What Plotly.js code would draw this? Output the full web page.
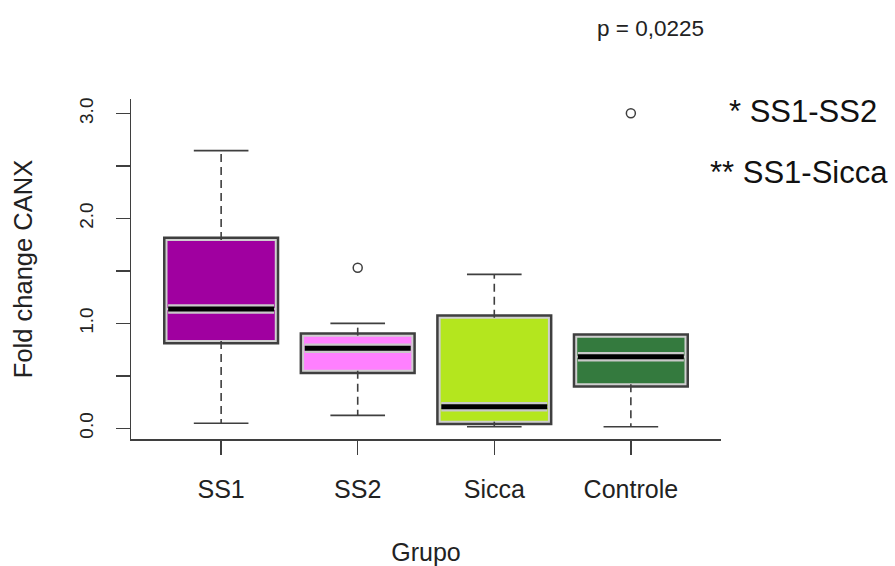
<!DOCTYPE html>
<html>
<head>
<meta charset="utf-8">
<script src="https://cdn.plot.ly/plotly-3.0.1.min.js"></script>
<style>html,body{margin:0;padding:0;background:#fff;}#chart{width:895px;height:566px;}</style>
</head>
<body>
<div id="chart"></div>
<script>
// ---- data ----
const groups = ["SS1", "SS2", "Sicca", "Controle"];
const whiskerLow  = [0.048, 0.124, 0.015, 0.015];
const q1          = [0.832, 0.549, 0.063, 0.419];
const median      = [1.137, 0.763, 0.206, 0.683];
const q3          = [1.795, 0.883, 1.054, 0.873];
const whiskerHigh = [2.646, 1.001, 1.468, 0.873];
const outlierGroup = ["SS2", "Controle"];
const outlierValue = [1.531, 3.003];
const yTickVals = [0, 0.5, 1, 1.5, 2, 2.5, 3];
const yTickText = ["0.0", "", "1.0", "", "2.0", "", "3.0"];
const pValueText = "p = 0,0225";
const noteTexts = ["* SS1-SS2", "** SS1-Sicca"];

// ---- styles ----
const fillColors = ["#a000a0", "#ff80ff", "#b4e61e", "#347a3e"];
const FONT = "Liberation Sans, Arial, sans-serif";
const dark = "#3f3f3f";
const boxW = 0.8, capHalf = 0.2;

const pos = groups.map((g, i) => i + 1);
const traces = [];

// boxes: outer dark outline, then light gray inner outline
groups.forEach((g, i) => {
  const base = {
    type: "box", x: [pos[i]], q1: [q1[i]], median: [median[i]], q3: [q3[i]],
    lowerfence: [q1[i]], upperfence: [q3[i]], width: boxW, boxpoints: false,
    fillcolor: fillColors[i], showlegend: false, hoverinfo: "skip", name: g
  };
  traces.push(Object.assign({}, base, {line: {color: dark, width: 7}}));
  traces.push(Object.assign({}, base, {line: {color: "#cfcfcf", width: 2}}));
});

// whiskers (dashed) and staples (solid)
const wx = [], wy = [], sx = [], sy = [], mx = [], my = [];
groups.forEach((g, i) => {
  if (whiskerHigh[i] > q3[i]) {
    wx.push(pos[i], pos[i], null);
    wy.push(q3[i], whiskerHigh[i], null);
    sx.push(pos[i] - capHalf, pos[i] + capHalf, null);
    sy.push(whiskerHigh[i], whiskerHigh[i], null);
  }
  if (whiskerLow[i] < q1[i]) {
    wx.push(pos[i], pos[i], null);
    wy.push(q1[i], whiskerLow[i], null);
    sx.push(pos[i] - capHalf, pos[i] + capHalf, null);
    sy.push(whiskerLow[i], whiskerLow[i], null);
  }
  mx.push(pos[i] - boxW / 2 + 0.012, pos[i] + boxW / 2 - 0.012, null);
  my.push(median[i], median[i], null);
});
traces.push({type: "scatter", mode: "lines", x: wx, y: wy, connectgaps: false,
  line: {color: dark, width: 1.6, dash: "8px,5px"}, showlegend: false, hoverinfo: "skip"});
traces.push({type: "scatter", mode: "lines", x: sx, y: sy, connectgaps: false,
  line: {color: dark, width: 1.7}, showlegend: false, hoverinfo: "skip"});
traces.push({type: "scatter", mode: "lines", x: mx, y: my, connectgaps: false,
  line: {color: "#c8c8c8", width: 9.5}, showlegend: false, hoverinfo: "skip"});
traces.push({type: "scatter", mode: "lines", x: mx, y: my, connectgaps: false,
  line: {color: "#000000", width: 5}, showlegend: false, hoverinfo: "skip"});

// outliers
traces.push({type: "scatter", mode: "markers",
  x: outlierGroup.map(g => groups.indexOf(g) + 1), y: outlierValue,
  marker: {symbol: "circle-open", size: 9, color: dark, line: {color: dark, width: 1.5}},
  showlegend: false, hoverinfo: "skip"});

const layout = {
  width: 895, height: 566,
  margin: {l: 131, r: 174, t: 99, b: 127, pad: 0},
  paper_bgcolor: "#ffffff", plot_bgcolor: "#ffffff",
  font: {family: FONT, color: "#222"},
  showlegend: false,
  xaxis: {
    range: [0.34, 4.66], tickmode: "array", tickvals: pos, ticktext: groups,
    showgrid: false, zeroline: false, showline: true, linecolor: dark, linewidth: 1.5,
    ticks: "outside", ticklen: 14, tickwidth: 1.5, tickcolor: dark,
    tickfont: {size: 25, family: FONT, color: "#222"}, ticklabelstandoff: 13,
    title: {text: "Grupo", font: {size: 25, family: FONT, color: "#222"}, standoff: 42}
  },
  yaxis: {
    range: [-0.102, 3.139], tickmode: "array", tickvals: yTickVals, ticktext: yTickText,
    showgrid: false, zeroline: false, showline: true, linecolor: dark, linewidth: 1.5,
    ticks: "outside", ticklen: 14, tickwidth: 1.5, tickcolor: dark, tickangle: -90,
    tickfont: {size: 19, family: FONT, color: "#222"}, ticklabelstandoff: 15,
    title: {text: "Fold change CANX", font: {size: 25.5, family: FONT, color: "#222"}, standoff: 36}
  },
  annotations: [
    {text: pValueText, xref: "paper", yref: "paper", x: 0.8797, y: 1.206,
     xanchor: "center", yanchor: "middle", showarrow: false, font: {size: 22.5, family: FONT, color: "#222"}},
    {text: noteTexts[0], xref: "paper", yref: "paper", x: (803 - 131) / 590, y: (439 - 112) / 340,
     xanchor: "center", yanchor: "middle", showarrow: false, font: {size: 31, family: FONT, color: "#111"}},
    {text: noteTexts[1], xref: "paper", yref: "paper", x: (799 - 131) / 590, y: (439 - 172) / 340,
     xanchor: "center", yanchor: "middle", showarrow: false, font: {size: 31, family: FONT, color: "#111"}}
  ]
};

Plotly.newPlot("chart", traces, layout, {staticPlot: true, displayModeBar: false});
</script>
</body>
</html>
